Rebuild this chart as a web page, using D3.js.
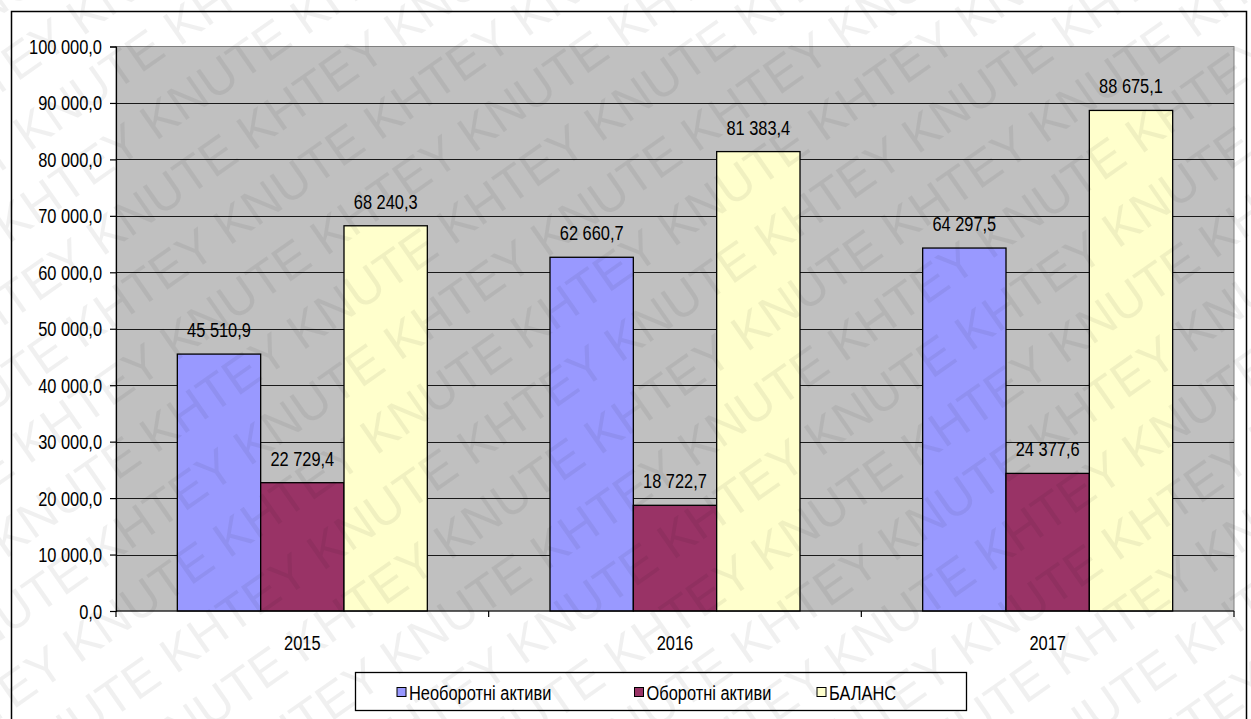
<!DOCTYPE html>
<html>
<head>
<meta charset="utf-8">
<script src="https://cdn.jsdelivr.net/npm/d3@7"></script>
<style>
  html, body { margin: 0; padding: 0; background: #fff; }
  svg { display: block; }
  .lbl { font-family: "Liberation Sans", Arial, sans-serif; font-size: 20px; fill: #000; }
</style>
</head>
<body>
<svg id="chart" width="1251" height="719"></svg>
<script>
// Balance structure by year, thousand UAH
const years = ["2015", "2016", "2017"];
const seriesNames = ["Необоротні активи", "Оборотні активи", "БАЛАНС"];
const nonCurrentAssets = [45510.9, 62660.7, 64297.5];
const currentAssets = [22729.4, 18722.7, 24377.6];
const balanceTotal = [68240.3, 81383.4, 88675.1];
const yTickValues = [0, 10000, 20000, 30000, 40000, 50000, 60000, 70000, 80000, 90000, 100000];
const seriesColors = ["#9999FF", "#993366", "#FFFFCC"];

const seriesValues = [nonCurrentAssets, currentAssets, balanceTotal];

const locale = d3.formatLocale({ decimal: ",", thousands: " ", grouping: [3], currency: ["", ""] });
const fmt = locale.format(",.1f");

const svg = d3.select("#chart");
const W = 1251, H = 719;
const plot = { left: 116, right: 1234, top: 46.5, bottom: 611 };

// outer frame
svg.append("rect")
  .attr("x", 11.5).attr("y", 11.5)
  .attr("width", 1235).attr("height", 720)
  .attr("fill", "#fff").attr("stroke", "#000").attr("stroke-width", 1.5);

const x0 = d3.scaleBand().domain(years).range([plot.left, plot.right]).paddingInner(0).paddingOuter(0);
const x1 = d3.scaleBand().domain(d3.range(seriesNames.length)).range([0, x0.bandwidth()])
  .paddingInner(0).paddingOuter(0.736);
const y = d3.scaleLinear().domain([0, 100000]).range([plot.bottom, plot.top]);

// plot background
svg.append("rect")
  .attr("x", plot.left).attr("y", plot.top)
  .attr("width", plot.right - plot.left).attr("height", plot.bottom - plot.top)
  .attr("fill", "#C0C0C0").attr("stroke", "#808080").attr("stroke-width", 1);

// gridlines
svg.append("g").selectAll("line")
  .data(yTickValues.filter(v => v > 0 && v < 100000))
  .join("line")
  .attr("x1", plot.left).attr("x2", plot.right)
  .attr("y1", d => Math.round(y(d)) + 0.5).attr("y2", d => Math.round(y(d)) + 0.5)
  .attr("stroke", "#1a1a1a").attr("stroke-width", 1);

// bars
const groups = svg.append("g").selectAll("g")
  .data(years)
  .join("g")
  .attr("transform", d => `translate(${x0(d)},0)`);

groups.selectAll("rect")
  .data((yr, i) => seriesValues.map((vals, s) => ({ s, v: vals[i] })))
  .join("rect")
  .attr("x", d => x1(d.s))
  .attr("y", d => y(d.v))
  .attr("width", x1.bandwidth())
  .attr("height", d => y(0) - y(d.v))
  .attr("fill", d => seriesColors[d.s])
  .attr("stroke", "#000").attr("stroke-width", 1.3);

// value labels
groups.selectAll("text")
  .data((yr, i) => seriesValues.map((vals, s) => ({ s, v: vals[i] })))
  .join("text")
  .attr("class", "lbl")
  .attr("x", d => x1(d.s) + x1.bandwidth() / 2)
  .attr("y", d => y(d.v) - 17)
  .attr("text-anchor", "middle")
  .text(d => fmt(d.v));

// y axis
const yAxis = d3.axisLeft(y).tickValues(yTickValues).tickSize(6).tickPadding(8).tickFormat(fmt);
const gy = svg.append("g").attr("transform", `translate(${plot.left},0)`).call(yAxis);
gy.select(".domain").attr("stroke", "#000").attr("stroke-width", 1.2);
gy.selectAll(".tick line").attr("stroke", "#000").attr("stroke-width", 1.2);
gy.selectAll(".tick text").attr("class", "lbl").attr("fill", "#000").attr("dy", "0.35em");

// x axis: line with ticks at the category boundaries
const gx = svg.append("g");
gx.append("line")
  .attr("x1", plot.left).attr("x2", plot.right)
  .attr("y1", plot.bottom).attr("y2", plot.bottom)
  .attr("stroke", "#000").attr("stroke-width", 1.2);
const bounds = years.map(d => x0(d)).concat([x0(years[years.length - 1]) + x0.bandwidth()]);
gx.selectAll("line.tk")
  .data(bounds)
  .join("line")
  .attr("class", "tk")
  .attr("x1", d => d).attr("x2", d => d)
  .attr("y1", plot.bottom).attr("y2", plot.bottom + 6)
  .attr("stroke", "#000").attr("stroke-width", 1.2);
gx.selectAll("text")
  .data(years)
  .join("text")
  .attr("class", "lbl")
  .attr("x", d => x0(d) + x0.bandwidth() / 2)
  .attr("y", 650)
  .attr("text-anchor", "middle")
  .text(d => d);

// legend
const legend = svg.append("g");
legend.append("rect")
  .attr("x", 355.5).attr("y", 672.5).attr("width", 611).attr("height", 38)
  .attr("fill", "#fff").attr("stroke", "#000").attr("stroke-width", 1.3);
const legendX = [397, 634.5, 817];
const items = legend.selectAll("g.item")
  .data(seriesNames)
  .join("g")
  .attr("class", "item")
  .attr("transform", (d, i) => `translate(${legendX[i]},687.5)`);
items.append("rect")
  .attr("width", 9).attr("height", 9)
  .attr("fill", (d, i) => seriesColors[i])
  .attr("stroke", "#000").attr("stroke-width", 1);
items.append("text")
  .attr("class", "lbl")
  .attr("x", 12).attr("y", 12)
  .text(d => d);

// condensed lettering: squeeze every label to a narrow face
svg.selectAll("text.lbl").each(function () {
  const w = this.getComputedTextLength();
  d3.select(this).attr("textLength", (w * 0.82).toFixed(1)).attr("lengthAdjust", "spacingAndGlyphs");
});

// watermark
const wm = svg.append("g")
  .attr("pointer-events", "none")
  .attr("transform", `rotate(-35 ${W / 2} ${H / 2})`);
const wmRows = d3.range(-12, 13);
wm.selectAll("text")
  .data(wmRows)
  .join("text")
  .attr("x", d => -650 + (d % 2 === 0 ? 0 : 110))
  .attr("y", d => H / 2 + d * 64)
  .attr("font-family", "Liberation Sans, Arial, sans-serif")
  .attr("font-size", 50)
  .attr("fill", "#000")
  .attr("fill-opacity", 0.06)
  .text(d => d3.range(12).map(() => "KHTEY KNUTE").join(" "));
</script>
</body>
</html>
